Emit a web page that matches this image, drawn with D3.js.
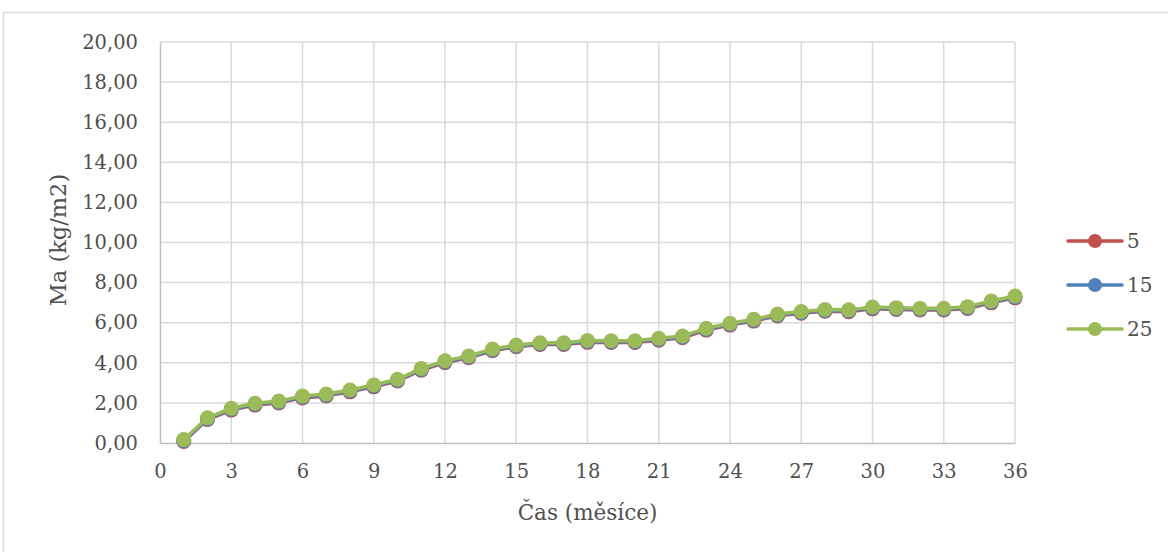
<!DOCTYPE html>
<html>
<head>
<meta charset="utf-8">
<script src="https://cdn.jsdelivr.net/npm/d3@7"></script>
<style>
  html, body { margin: 0; padding: 0; background: #fff; }
  svg { display: block; }
  text { font-family: "DejaVu Serif", "Liberation Serif", serif; fill: #505050; }
</style>
</head>
<body>
<svg id="chart" width="1168" height="552"></svg>
<script>
const months = [1,2,3,4,5,6,7,8,9,10,11,12,13,14,15,16,17,18,19,20,21,22,23,24,25,26,27,28,29,30,31,32,33,34,35,36];
const series5  = [0.08,1.17,1.64,1.89,2.00,2.25,2.35,2.55,2.80,3.09,3.63,4.01,4.25,4.60,4.80,4.91,4.91,5.02,5.01,5.01,5.13,5.25,5.63,5.88,6.08,6.34,6.47,6.57,6.55,6.69,6.66,6.63,6.63,6.71,6.99,7.24];
const series15 = [0.12,1.21,1.68,1.93,2.04,2.29,2.39,2.59,2.84,3.13,3.67,4.05,4.29,4.64,4.84,4.95,4.95,5.06,5.05,5.05,5.17,5.29,5.67,5.92,6.12,6.38,6.51,6.61,6.59,6.73,6.70,6.67,6.67,6.75,7.03,7.28];
const series25 = [0.17,1.26,1.73,1.98,2.09,2.34,2.44,2.64,2.89,3.18,3.72,4.10,4.34,4.69,4.89,5.00,5.00,5.11,5.10,5.10,5.22,5.34,5.72,5.97,6.17,6.43,6.56,6.66,6.64,6.78,6.75,6.72,6.72,6.80,7.08,7.33];
const seriesNames = ["5", "15", "25"];
const seriesColors = ["#C0504D", "#4F81BD", "#9BBB59"];
const xTicks = [0,3,6,9,12,15,18,21,24,27,30,33,36];
const yTicks = [0,2,4,6,8,10,12,14,16,18,20];
const xTitle = "Čas (měsíce)";
const yTitle = "Ma (kg/m2)";

const svg = d3.select("#chart");
const W = 1168, H = 552;
const plot = {left: 160, right: 1015, top: 42, bottom: 443};

// outer border
svg.append("rect").attr("x", 3.5).attr("y", 12.5).attr("width", W + 10).attr("height", H + 10)
  .attr("fill", "#fff").attr("stroke", "#d9d9d9").attr("stroke-width", 1.5);

const x = d3.scaleLinear().domain([0, 36]).range([plot.left, plot.right]);
const y = d3.scaleLinear().domain([0, 20]).range([plot.bottom, plot.top]);

// gridlines
const grid = svg.append("g");
grid.selectAll("line.h").data(yTicks.filter(d => d > 0)).join("line")
  .attr("x1", plot.left).attr("x2", plot.right)
  .attr("y1", d => y(d)).attr("y2", d => y(d))
  .attr("stroke", "#d9d9d9").attr("stroke-width", 1.5);
grid.selectAll("line.v").data(xTicks.filter(d => d > 0)).join("line")
  .attr("y1", plot.top).attr("y2", plot.bottom)
  .attr("x1", d => x(d)).attr("x2", d => x(d))
  .attr("stroke", "#d9d9d9").attr("stroke-width", 1.5);

// axes
const yAxis = d3.axisLeft(y).tickValues(yTicks).tickSize(0).tickPadding(22)
  .tickFormat(d => d3.format(".2f")(d).replace(".", ","));
const gy = svg.append("g").attr("transform", `translate(${plot.left},0)`).call(yAxis);
gy.select(".domain").attr("stroke", "#bfbfbf").attr("stroke-width", 1.5);
gy.selectAll("text").attr("font-size", 19.5).attr("font-family", "DejaVu Serif").attr("fill", "#505050");

const xAxis = d3.axisBottom(x).tickValues(xTicks).tickSize(0).tickPadding(21);
const gx = svg.append("g").attr("transform", `translate(0,${plot.bottom})`).call(xAxis);
gx.select(".domain").attr("stroke", "#bfbfbf").attr("stroke-width", 1.5);
gx.selectAll("text").attr("font-size", 19.5).attr("font-family", "DejaVu Serif").attr("fill", "#505050");

// titles
svg.append("text").attr("x", (plot.left + plot.right) / 2).attr("y", 520)
  .attr("text-anchor", "middle").attr("font-size", 21.5).text(xTitle);
svg.append("text").attr("transform", `translate(66,240) rotate(-90)`)
  .attr("text-anchor", "middle").attr("font-size", 22.5).text(yTitle);

// series
const allSeries = [series5, series15, series25];
const line = d3.line().x((d, i) => x(months[i])).y(d => y(d));
allSeries.forEach((vals, si) => {
  const g = svg.append("g");
  g.append("path").datum(vals).attr("d", line)
    .attr("fill", "none").attr("stroke", seriesColors[si]).attr("stroke-width", 3.5)
    .attr("stroke-linejoin", "round");
  g.selectAll("circle").data(vals).join("circle")
    .attr("cx", (d, i) => x(months[i])).attr("cy", d => y(d)).attr("r", 7.5)
    .attr("fill", seriesColors[si]);
});

// legend
const legY = [241, 285, 329];
seriesNames.forEach((name, i) => {
  const g = svg.append("g");
  g.append("line").attr("x1", 1068).attr("x2", 1122).attr("y1", legY[i]).attr("y2", legY[i])
    .attr("stroke", seriesColors[i]).attr("stroke-width", 3.5).attr("stroke-linecap", "round");
  g.append("circle").attr("cx", 1095).attr("cy", legY[i]).attr("r", 7).attr("fill", seriesColors[i]);
  g.append("text").attr("x", 1127).attr("y", legY[i]).attr("dy", "0.35em")
    .attr("font-size", 20).text(name);
});
</script>
</body>
</html>
